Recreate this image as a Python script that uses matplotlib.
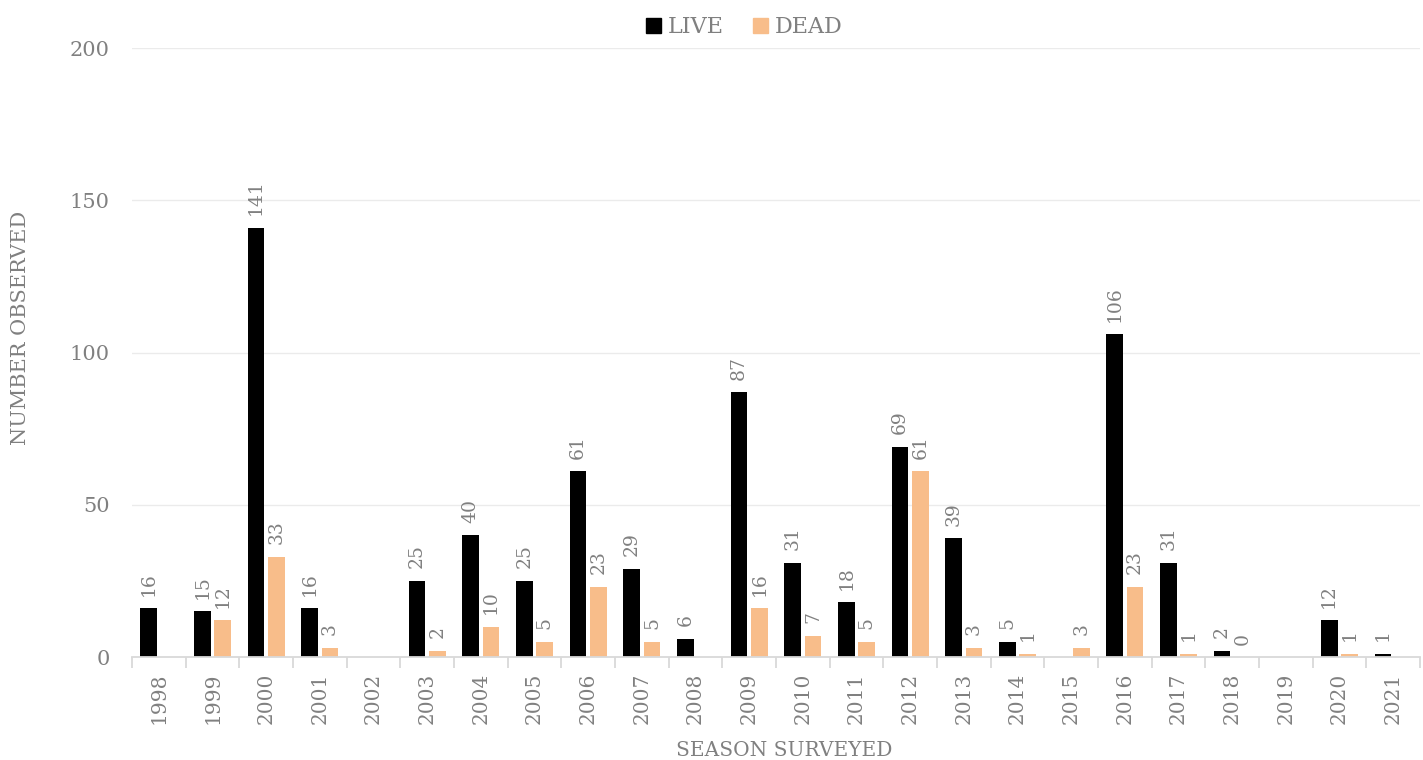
import numpy as np
import matplotlib
matplotlib.use('Agg')
import matplotlib.pyplot as plt
from matplotlib.patches import Patch

# data (None = no bar, no label)
years = [str(y) for y in range(1998, 2022)]
live = [16, 15, 141, 16, None, 25, 40, 25, 61, 29, 6, 87, 31, 18, 69, 39, 5, None, 106, 31, 2, None, 12, 1]
dead = [None, 12, 33, 3, None, 2, 10, 5, 23, 5, None, 16, 7, 5, 61, 3, 1, 3, 23, 1, 0, None, 1, None]

plt.rcParams['font.family'] = ['DejaVu Serif']
grey = '#808080'

fig = plt.figure(figsize=(14.23, 7.6), dpi=100)
ax = fig.add_axes([0.0928, 0.1355, 0.905, 0.8013])

x = np.arange(len(years))
w = 0.31
off = 0.19


def draw(vals, shift, color):
    xs = [xi + shift for xi, v in zip(x, vals) if v is not None]
    vs = [v for v in vals if v is not None]
    ax.bar(xs, vs, width=w, color=color, zorder=3)
    for xi, v in zip(xs, vs):
        ax.annotate(str(v), (xi, v), xytext=(0, 9), textcoords='offset points',
                    rotation=90, ha='center', va='bottom', color=grey, fontsize=13.5)


draw(live, -off, '#000000')
draw(dead, off, '#f8bd8a')

ax.set_xlim(-0.5, len(years) - 0.5)
ax.set_ylim(0, 200)
ax.set_yticks([0, 50, 100, 150, 200])
ax.yaxis.grid(True, color='#ebebeb', lw=1, zorder=0)
ax.tick_params(axis='y', length=0, pad=16, labelcolor=grey, labelsize=15)

# category labels centered, tick marks at boundaries
ax.set_xticks(x)
ax.set_xticklabels(years, rotation=90, color=grey, fontsize=14.5)
ax.tick_params(axis='x', length=0, pad=11)
ax.set_xticks(np.arange(-0.5, len(years)), minor=True)
ax.tick_params(axis='x', which='minor', length=8, color='#d9d9d9', width=1.3)

for s in ['top', 'right', 'left']:
    ax.spines[s].set_visible(False)
ax.spines['bottom'].set_color('#d9d9d9')
ax.spines['bottom'].set_linewidth(1.3)
ax.spines['bottom'].set_zorder(4)

ax.set_xlabel('SEASON SURVEYED', color=grey, fontsize=14.5)
ax.xaxis.set_label_coords(0.506, -0.138)
ax.set_ylabel('NUMBER OBSERVED', color=grey, fontsize=15)
ax.yaxis.set_label_coords(-0.079, 0.54)

handles = [Patch(color='#000000', label='LIVE'), Patch(color='#f8bd8a', label='DEAD')]
fig.legend(handles=handles, loc='upper center', bbox_to_anchor=(0.523, 1.005), ncol=2,
           frameon=False, fontsize=16, labelcolor=grey, handlelength=0.7, handleheight=0.7,
           handletextpad=0.3, columnspacing=1.3)

fig.savefig('out.png', dpi=100)
